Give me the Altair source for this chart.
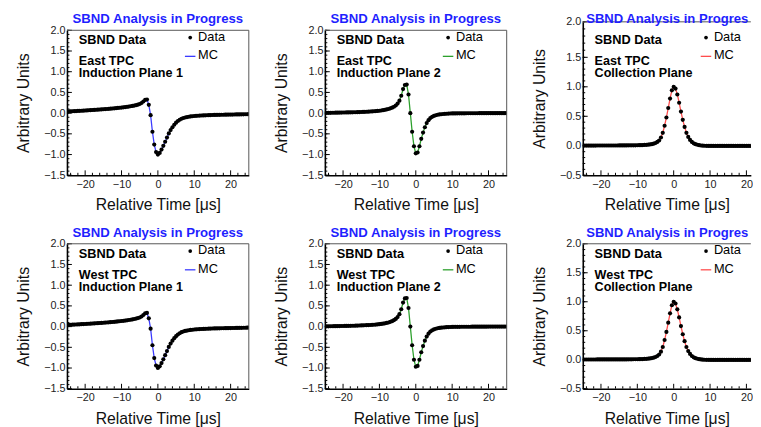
import altair as alt
import pandas as pd

# time axis: bin centres every 0.5 us
TIME = [-25 + 0.5 * i for i in range(101)]

IND1 = [0.040, 0.042, 0.044, 0.046, 0.048, 0.050, 0.053, 0.055, 0.058, 0.060,
        0.063, 0.066, 0.069, 0.072, 0.075, 0.078, 0.081, 0.084, 0.087, 0.090,
        0.094, 0.097, 0.100, 0.104, 0.108, 0.112, 0.116, 0.120, 0.125, 0.130,
        0.135, 0.140, 0.146, 0.152, 0.159, 0.166, 0.174, 0.183, 0.193, 0.205,
        0.220, 0.245, 0.280, 0.320, 0.330, 0.200, -0.050, -0.450, -0.760, -0.940,
        -1.000, -0.960, -0.880, -0.790, -0.690, -0.590, -0.490, -0.410, -0.340, -0.280,
        -0.230, -0.190, -0.160, -0.135, -0.118, -0.105, -0.095, -0.087, -0.080, -0.075,
        -0.070, -0.066, -0.063, -0.060, -0.057, -0.055, -0.053, -0.051, -0.049, -0.047,
        -0.046, -0.044, -0.043, -0.042, -0.041, -0.040, -0.039, -0.038, -0.037, -0.036,
        -0.035, -0.034, -0.033, -0.032, -0.031, -0.030, -0.029, -0.028, -0.027, -0.026,
        -0.025]

IND2 = [0.005, 0.006, 0.007, 0.008, 0.009, 0.010, 0.011, 0.012, 0.013, 0.014,
        0.015, 0.016, 0.017, 0.018, 0.019, 0.020, 0.021, 0.022, 0.024, 0.026,
        0.028, 0.030, 0.032, 0.034, 0.036, 0.039, 0.042, 0.045, 0.049, 0.053,
        0.058,
        0.064, 0.071, 0.079, 0.089, 0.100, 0.115, 0.132, 0.155, 0.185, 0.230,
        0.300, 0.420, 0.580, 0.680, 0.690, 0.450, 0.000, -0.450, -0.800,
        -0.970,
        -0.950, -0.800, -0.620, -0.470, -0.340, -0.240, -0.170, -0.120, -0.090, -0.068,
        -0.052, -0.040, -0.032, -0.026, -0.021, -0.017, -0.014, -0.011, -0.009,
        -0.007, -0.006, -0.006, -0.005, -0.005, -0.004, -0.004, -0.004, -0.003, -0.003,
        -0.003, -0.002, -0.002, -0.002, -0.002, -0.001, -0.001, -0.001, -0.001, -0.001,
        0.000, 0.000, 0.000, 0.000, 0.000, 0.000, 0.000, 0.000, 0.000, 0.000,
        0.000]

COLL = [0.004, 0.004, 0.004, 0.004, 0.004, 0.004, 0.004, 0.004, 0.005, 0.005,
        0.005, 0.005, 0.005, 0.005, 0.005, 0.005, 0.005, 0.005, 0.005, 0.005,
        0.006, 0.006, 0.006, 0.006, 0.006, 0.007, 0.007, 0.007, 0.008, 0.008,
        0.009,
        0.010, 0.011, 0.012, 0.014, 0.016, 0.019, 0.023, 0.028, 0.036, 0.047,
        0.065, 0.090, 0.140, 0.220, 0.340, 0.480, 0.640, 0.800, 0.940,
        1.000,
        0.970, 0.870, 0.730, 0.580, 0.440, 0.320, 0.220, 0.150, 0.100, 0.065,
        0.042, 0.027, 0.017, 0.010, 0.005, 0.002, 0.000, -0.001, -0.002,
        -0.003, -0.003, -0.003, -0.003, -0.003, -0.003, -0.003, -0.003, -0.003, -0.003,
        -0.003, -0.003, -0.003, -0.003, -0.003, -0.003, -0.003, -0.003, -0.003, -0.003,
        -0.003, -0.003, -0.003, -0.003, -0.003, -0.003, -0.003, -0.003, -0.003, -0.003,
        -0.003]

X_LABELS = [-20, -10, 0, 10, 20]
X_MINOR = [-24, -22, -18, -16, -14, -12, -8, -6, -4, -2,
           2, 4, 6, 8, 12, 14, 16, 18, 22, 24]
Y_LABELS_IND = [-1.5, -1.0, -0.5, 0.0, 0.5, 1.0, 1.5, 2.0]
Y_LABELS_COLL = [-0.5, 0.0, 0.5, 1.0, 1.5, 2.0]

BLUE_TITLE = "#1f1fff"
MC_COLORS = {"ind1": "#3b3bff", "ind2": "#2ca02c", "coll": "#ff4d4d"}

FONT = "Liberation Sans"
W = 185
H = 147.5
TOP_STRETCH = -8.6   # the top-right frame in the reference reaches higher


def minor_vals(lo, hi):
    n = int(round((hi - lo) / 0.1))
    return [round(lo + 0.1 * i, 1) for i in range(n + 1)]


def panel(vals, mc_color, ymin, ymax, ylabels, tpc, plane, width, xmax,
          right_border=True, cut_title=False, stretched=False):
    xs = alt.Scale(domain=[-25, xmax], nice=False, zero=False)
    top_y = 0
    if stretched:
        top_y = TOP_STRETCH
        ys = alt.Scale(domain=[ymin, 1.5, ymax], range=[H, H - 120, top_y],
                       nice=False, zero=False)
    else:
        ys = alt.Scale(domain=[ymin, ymax], nice=False, zero=False)
    df = pd.DataFrame({"t": TIME, "v": vals})
    xaxis = alt.Axis(values=X_LABELS, format="d", title="Relative Time [μs]",
                     ticks=False, tickSize=0, grid=False, domainColor="black",
                     domainWidth=1.6, labelFontSize=11, labelColor="#222",
                     labelPadding=3, titleFontSize=16, titleFontWeight="normal",
                     titleColor="#111", titlePadding=8, labelFont=FONT,
                     titleFont=FONT)
    yaxis = alt.Axis(values=ylabels, format=".1f", title="Arbitrary Units",
                     ticks=False, tickSize=0, grid=False, domainColor="black",
                     domainWidth=1.6, labelFontSize=11, labelColor="#222",
                     labelPadding=2, titleFontSize=16, titleFontWeight="normal",
                     titleColor="#111", titlePadding=12, labelFont=FONT,
                     titleFont=FONT)
    X = alt.X("t:Q", scale=xs, axis=xaxis)
    Y = alt.Y("v:Q", scale=ys, axis=yaxis)

    base = alt.Chart(df)
    mc = base.mark_line(color=mc_color, strokeWidth=1.3, clip=True).encode(x=X, y=Y)
    pts = base.mark_circle(size=18, color="black", opacity=1, clip=True).encode(x=X, y=Y)

    xmaj = alt.Chart(pd.DataFrame({"t": X_LABELS})).mark_rule(
        color="black", strokeWidth=1, clip=True).encode(
        x=X, y=alt.value(H), y2=alt.value(H - 5))
    xmin = alt.Chart(pd.DataFrame({"t": X_MINOR})).mark_rule(
        color="black", strokeWidth=1, clip=True).encode(
        x=X, y=alt.value(H), y2=alt.value(H - 2.5))
    ymaj = alt.Chart(pd.DataFrame({"v": ylabels})).mark_rule(
        color="black", strokeWidth=1).encode(
        y=Y, x=alt.value(0), x2=alt.value(5))
    ymin_t = alt.Chart(pd.DataFrame({"v": minor_vals(ymin, ymax)})).mark_rule(
        color="black", strokeWidth=1).encode(
        y=Y, x=alt.value(0), x2=alt.value(2.5))

    one = pd.DataFrame({"a": [0]})
    layers = [mc, pts, xmaj, xmin, ymaj, ymin_t]

    layers.append(alt.Chart(one).mark_rule(color="#555", strokeWidth=1).encode(
        x=alt.value(0), x2=alt.value(width), y=alt.value(top_y)))
    if right_border:
        layers.append(alt.Chart(one).mark_rule(color="#555", strokeWidth=1).encode(
            x=alt.value(width), y=alt.value(top_y), y2=alt.value(H)))

    def txt(text, x, y, size=13, weight="bold", color="black", align="left", **kw):
        return alt.Chart(one).mark_text(
            text=text, align=align, baseline="middle", font=FONT, fontSize=size,
            fontWeight=weight, color=color, **kw).encode(
            x=alt.value(x), y=alt.value(y))

    if cut_title:
        layers.append(txt("SBND Analysis in Progress", 3.5, -11.3, size=13.3,
                          color=BLUE_TITLE, limit=width - 3.5, ellipsis="\u200b"))
    else:
        layers.append(txt("SBND Analysis in Progress", W / 2, -11.3, size=13.4,
                          color=BLUE_TITLE, align="center"))
    layers.append(txt("SBND Data", 12, 10))
    layers.append(txt([tpc, plane], 12, 31.8, size=12.8, lineHeight=12))
    layers.append(alt.Chart(one).mark_circle(size=14, color="black", opacity=1).encode(
        x=alt.value(125.4), y=alt.value(7.4)))
    layers.append(txt("Data", 133.4, 6.7, weight="normal"))
    layers.append(alt.Chart(one).mark_rule(color=mc_color, strokeWidth=1.3).encode(
        x=alt.value(120), x2=alt.value(130.7), y=alt.value(26.5)))
    layers.append(txt("MC", 133.4, 25.7, weight="normal"))

    return alt.layer(*layers).properties(width=width, height=H)


W3 = 171
XMAX3 = -25 + W3 / (W / 50.0)

panels = [
    panel(IND1, MC_COLORS["ind1"], -1.5, 2.0, Y_LABELS_IND, "East TPC", "Induction Plane 1", W, 25),
    panel(IND2, MC_COLORS["ind2"], -1.5, 2.0, Y_LABELS_IND, "East TPC", "Induction Plane 2", W, 25),
    panel(COLL, MC_COLORS["coll"], -0.5, 2.0, Y_LABELS_COLL, "East TPC", "Collection Plane", W3, XMAX3,
          right_border=False, cut_title=True, stretched=True),
    panel(IND1, MC_COLORS["ind1"], -1.5, 2.0, Y_LABELS_IND, "West TPC", "Induction Plane 1", W, 25),
    panel(IND2, MC_COLORS["ind2"], -1.5, 2.0, Y_LABELS_IND, "West TPC", "Induction Plane 2", W, 25),
    panel(COLL, MC_COLORS["coll"], -0.5, 2.0, Y_LABELS_COLL, "West TPC", "Collection Plane", W3, XMAX3,
          right_border=False, cut_title=True),
]

chart = alt.concat(
    *panels, columns=3,
    spacing=alt.RowColnumber(row=69.2, column=77.4),
    bounds="flush",
).properties(
    padding={"left": 8, "top": 0, "right": 0, "bottom": 0},
    background="white",
).configure_view(stroke=None)

chart.save("out.html", embed_options={"renderer": "svg", "actions": False})
